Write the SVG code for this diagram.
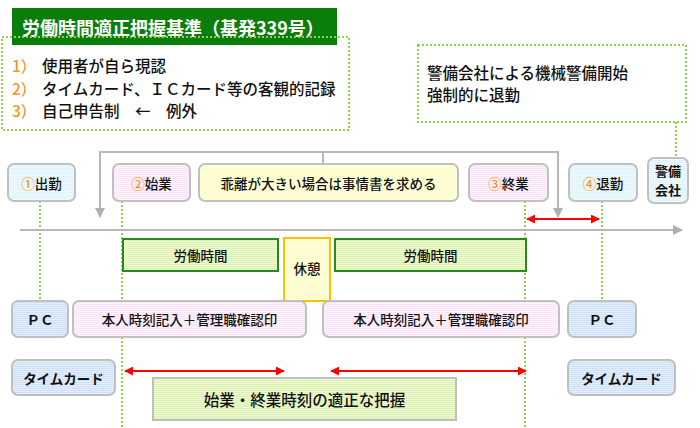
<svg xmlns="http://www.w3.org/2000/svg" width="700" height="428" viewBox="0 0 700 428">
<defs>
<pattern id="pCyan" width="4" height="2" patternUnits="userSpaceOnUse"><rect width="4" height="2" fill="#eefafd"/><rect width="4" height="1" fill="#dff3f8"/></pattern>
<pattern id="pPink" width="4" height="2" patternUnits="userSpaceOnUse"><rect width="4" height="2" fill="#fdf3fc"/><rect width="4" height="1" fill="#f9e3f6"/></pattern>
<pattern id="pYellow" width="4" height="2" patternUnits="userSpaceOnUse"><rect width="4" height="2" fill="#ffffe2"/><rect width="4" height="1" fill="#fdfcc4"/></pattern>
<pattern id="pBlue" width="4" height="2" patternUnits="userSpaceOnUse"><rect width="4" height="2" fill="#e3eefb"/><rect width="4" height="1" fill="#cfe1f6"/></pattern>
<pattern id="pGreen" width="4" height="2" patternUnits="userSpaceOnUse"><rect width="4" height="2" fill="#eef9d6"/><rect width="4" height="1" fill="#dcf2b0"/></pattern>
<marker id="aGray" viewBox="0 0 10 10" refX="9" refY="5" markerWidth="5" markerHeight="5" orient="auto"><path d="M0,0 L10,5 L0,10 z" fill="#b0b0b0"/></marker>
<marker id="aRed" viewBox="0 0 10 10" refX="9" refY="5" markerWidth="4.5" markerHeight="4.5" orient="auto-start-reverse"><path d="M0,0 L10,5 L0,10 z" fill="#ff0000"/></marker>
</defs>
<style>
text{font-family:"Noto Sans CJK JP","Noto Sans",sans-serif;fill:#111;dominant-baseline:central;font-weight:500}
.box{stroke:#c0c0c0;stroke-width:2}
.t{font-size:13.5px;text-anchor:middle}
.b{font-weight:bold}
.o{fill:#f7941d}
.l{font-size:15.5px}
.dot{stroke:#92d050;stroke-width:2;stroke-dasharray:2 2;fill:none}
.gray{stroke:#b8b8b8;stroke-width:2;fill:none}
.red{stroke:#ff0000;stroke-width:2;fill:none}
</style>

<g id="title">
<rect x="12" y="8" width="325" height="37" fill="#0b7d0b"/>
<text x="22" y="27" style="font-size:18px;font-weight:bold;fill:#fff">労働時間適正把握基準（基発339号）</text>
</g>

<g id="rules">
<rect x="2" y="37" width="347" height="93" class="dot"/>
<text x="12" y="65" class="l"><tspan class="o">1）</tspan><tspan x="42">使用者が自ら現認</tspan></text>
<text x="12" y="88" class="l"><tspan class="o">2）</tspan><tspan x="42">タイムカード、ＩＣカード等の客観的記録</tspan></text>
<text x="12" y="110" class="l"><tspan class="o">3）</tspan><tspan x="42">自己申告制　←　例外</tspan></text>
</g>

<g id="security-note">
<rect x="418" y="45" width="268" height="77" class="dot"/>
<text x="427" y="72" class="l">警備会社による機械警備開始</text>
<text x="427" y="94" class="l">強制的に退勤</text>
</g>

<g id="connectors">
<path class="dot" d="M676,122 V158"/>
<path class="dot" d="M40,201 V301"/>
<path class="dot" d="M122,201 V428"/>
<path class="dot" d="M525,201 V428"/>
<path class="dot" d="M602,201 V301"/>
<path class="gray" d="M323,164 V152"/>
<path class="gray" d="M323,152 H100 V217" marker-end="url(#aGray)"/>
<path class="gray" d="M323,152 H558 V217" marker-end="url(#aGray)"/>
<path class="gray" d="M20,230 H682" marker-end="url(#aGray)"/>
<path class="red" d="M527,219 H599" marker-start="url(#aRed)" marker-end="url(#aRed)"/>
<path class="red" d="M125,371 H284" marker-start="url(#aRed)" marker-end="url(#aRed)"/>
<path class="red" d="M331,371 H526" marker-start="url(#aRed)" marker-end="url(#aRed)"/>
</g>

<g id="n-shukkin">
<rect x="8" y="164" width="67" height="37" rx="6" class="box" fill="url(#pCyan)"/>
<text x="41.5" y="183" class="t"><tspan class="o">①</tspan>出勤</text>
</g>
<g id="n-shigyo">
<rect x="113" y="164" width="77" height="37" rx="6" class="box" fill="url(#pPink)"/>
<text x="151.5" y="183" class="t"><tspan class="o">②</tspan>始業</text>
</g>
<g id="n-kairi">
<rect x="199" y="164" width="259" height="37" rx="6" class="box" fill="url(#pYellow)"/>
<text x="328.5" y="183" class="t">乖離が大きい場合は事情書を求める</text>
</g>
<g id="n-shugyo">
<rect x="469" y="164" width="79" height="37" rx="6" class="box" fill="url(#pPink)"/>
<text x="508.5" y="183" class="t"><tspan class="o">③</tspan>終業</text>
</g>
<g id="n-taikin">
<rect x="569" y="164" width="68" height="37" rx="6" class="box" fill="url(#pCyan)"/>
<text x="603" y="183" class="t"><tspan class="o">④</tspan>退勤</text>
</g>
<g id="n-keibi">
<rect x="648" y="158" width="40" height="45" rx="6" class="box" fill="url(#pCyan)"/>
<text x="668" y="170" class="t b" style="font-size:13px">警備</text>
<text x="668" y="189" class="t b" style="font-size:13px">会社</text>
</g>

<g id="n-work1">
<rect x="123" y="239" width="155" height="32" fill="url(#pGreen)" stroke="#2a8a1e" stroke-width="2"/>
<text x="200.5" y="255" class="t">労働時間</text>
</g>
<g id="n-break">
<rect x="284" y="238" width="46" height="63" fill="url(#pYellow)" stroke="#ffc000" stroke-width="2"/>
<text x="307" y="268" class="t">休憩</text>
</g>
<g id="n-work2">
<rect x="335" y="239" width="191" height="32" fill="url(#pGreen)" stroke="#2a8a1e" stroke-width="2"/>
<text x="430.5" y="255" class="t">労働時間</text>
</g>

<g id="n-pc1">
<rect x="12" y="301" width="56" height="36" rx="6" class="box" fill="url(#pBlue)"/>
<text x="40" y="319" class="t b">ＰＣ</text>
</g>
<g id="n-record1">
<rect x="73" y="301" width="233" height="36" rx="6" class="box" fill="url(#pPink)"/>
<text x="189.5" y="319" class="t">本人時刻記入＋管理職確認印</text>
</g>
<g id="n-record2">
<rect x="323" y="301" width="236" height="36" rx="6" class="box" fill="url(#pPink)"/>
<text x="441" y="319" class="t">本人時刻記入＋管理職確認印</text>
</g>
<g id="n-pc2">
<rect x="568" y="301" width="68" height="36" rx="6" class="box" fill="url(#pBlue)"/>
<text x="602" y="319" class="t b">ＰＣ</text>
</g>

<g id="n-card1">
<rect x="12" y="360" width="103" height="35" rx="6" class="box" fill="url(#pBlue)"/>
<text x="63.5" y="378" class="t b">タイムカード</text>
</g>
<g id="n-card2">
<rect x="568" y="360" width="107" height="35" rx="6" class="box" fill="url(#pBlue)"/>
<text x="621.5" y="378" class="t b">タイムカード</text>
</g>

<g id="n-grasp">
<rect x="153" y="378" width="303" height="42" class="box" fill="url(#pGreen)"/>
<text x="304.5" y="399" class="t" style="font-size:15.5px">始業・終業時刻の適正な把握</text>
</g>
</svg>
